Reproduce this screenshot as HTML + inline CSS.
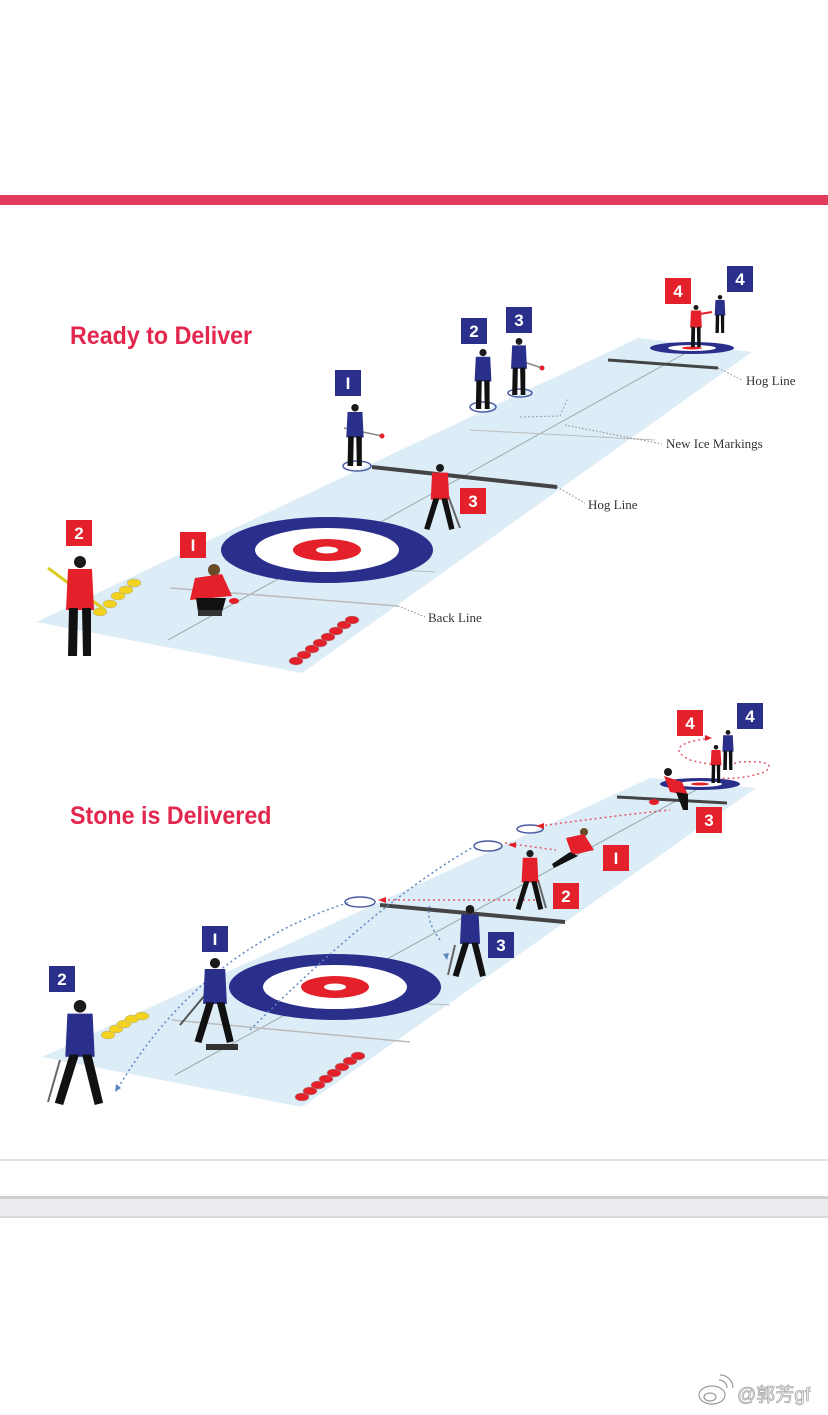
<!DOCTYPE html>
<html><head><meta charset="utf-8"><style>
html,body{margin:0;padding:0;background:#fff;width:828px;height:1415px;overflow:hidden}
svg{display:block}
</style></head><body>
<svg width="828" height="1415" viewBox="0 0 828 1415" xmlns="http://www.w3.org/2000/svg">
<defs>
<g id="p">
<circle cx="0" cy="6" r="6" fill="#1a1a1a"/>
<path d="M-12,13 L12,13 L14,54 L-14,54 Z" fill="currentColor"/>
<path d="M-11,52 L-2,52 L-3,100 L-12,100 Z M2,52 L11,52 L11,100 L3,100 Z" fill="#111"/>
</g>
<g id="pw">
<circle cx="0" cy="6" r="6" fill="#1a1a1a"/>
<path d="M-12,13 L12,13 L14,54 L-14,54 Z" fill="currentColor"/>
<path d="M-10,52 L-1,52 L-16,100 L-24,98 Z M2,52 L11,52 L22,98 L14,100 Z" fill="#111"/>
</g>
</defs>
<rect x="0" y="195" width="828" height="10" fill="#e23a5c"/>

<polygon points="36,622 302,673 752,352 638,338" fill="#dcedf8"/>
<line x1="168" y1="640" x2="700" y2="345" stroke="#9aa" stroke-width="1"/>
<line x1="170" y1="588" x2="398" y2="606" stroke="#bbb" stroke-width="1.5"/>
<line x1="225" y1="560" x2="435" y2="572" stroke="#bbb" stroke-width="1"/>
<line x1="470" y1="430" x2="655" y2="440" stroke="#bbb" stroke-width="1"/>
<ellipse cx="327" cy="550" rx="106" ry="33" fill="#2b2f8c"/>
<ellipse cx="327" cy="550" rx="72" ry="22" fill="#fff"/>
<ellipse cx="327" cy="550" rx="34" ry="11" fill="#e4202a"/>
<ellipse cx="327" cy="550" rx="11" ry="3.5" fill="#fff"/>
<line x1="372" y1="467" x2="557" y2="487" stroke="#444" stroke-width="4"/>
<line x1="608" y1="360" x2="718" y2="368" stroke="#444" stroke-width="3"/>
<ellipse cx="692" cy="348" rx="42" ry="6" fill="#2b2f8c"/>
<ellipse cx="692" cy="348" rx="24" ry="3" fill="#fff"/>
<ellipse cx="692" cy="348" rx="10" ry="1.5" fill="#e4202a"/>
<ellipse cx="357" cy="466" rx="14" ry="5" fill="none" stroke="#4a5aa0" stroke-width="1.5"/>
<ellipse cx="483" cy="407" rx="13" ry="5" fill="none" stroke="#4a5aa0" stroke-width="1.5"/>
<ellipse cx="520" cy="393" rx="12" ry="4" fill="none" stroke="#4a5aa0" stroke-width="1.5"/>
<path d="M520,417 L560,416 L568,398" stroke="#8aa" stroke-width="1" stroke-dasharray="2,2" fill="none"/>
<g fill="#f3d31f" stroke="#aa9" stroke-width="0.5">
<ellipse cx="100" cy="612" rx="7" ry="4"/><ellipse cx="110" cy="604" rx="7" ry="4"/><ellipse cx="118" cy="596" rx="7" ry="4"/><ellipse cx="126" cy="590" rx="7" ry="4"/><ellipse cx="134" cy="583" rx="7" ry="4"/>
</g>
<g fill="#e4202a" stroke="#999" stroke-width="0.5">
<ellipse cx="296" cy="661" rx="7" ry="4"/><ellipse cx="304" cy="655" rx="7" ry="4"/><ellipse cx="312" cy="649" rx="7" ry="4"/><ellipse cx="320" cy="643" rx="7" ry="4"/><ellipse cx="328" cy="637" rx="7" ry="4"/><ellipse cx="336" cy="631" rx="7" ry="4"/><ellipse cx="344" cy="625" rx="7" ry="4"/><ellipse cx="352" cy="620" rx="7" ry="4"/>
</g>
<line x1="48" y1="568" x2="105" y2="610" stroke="#ddcc22" stroke-width="3"/>
<use href="#p" transform="translate(80,556) scale(1)" style="color:#e4202a"/>
<g><circle cx="214" cy="570" r="6" fill="#6b4a2a"/><path d="M195,578 L222,574 L232,596 L190,600 Z" fill="#e4202a"/><path d="M196,598 L226,598 L222,612 L198,612 Z" fill="#111"/><rect x="198" y="610" width="24" height="6" fill="#333"/><ellipse cx="234" cy="601" rx="5" ry="3" fill="#e4202a"/></g>
<line x1="446" y1="490" x2="460" y2="528" stroke="#666" stroke-width="2"/>
<use href="#pw" transform="translate(440,464) scale(0.66)" style="color:#e4202a"/>
<line x1="344" y1="428" x2="382" y2="436" stroke="#888" stroke-width="1.5"/><circle cx="382" cy="436" r="2.5" fill="#e4202a"/>
<use href="#p" transform="translate(355,404) scale(0.62)" style="color:#2b2f8c"/>
<use href="#p" transform="translate(483,349) scale(0.6)" style="color:#2b2f8c"/>
<line x1="512" y1="358" x2="542" y2="368" stroke="#888" stroke-width="1.5"/><circle cx="542" cy="368" r="2.5" fill="#e4202a"/>
<use href="#p" transform="translate(519,338) scale(0.57)" style="color:#2b2f8c"/>
<use href="#p" transform="translate(696,305) scale(0.42)" style="color:#e4202a"/>
<line x1="700" y1="314" x2="712" y2="312" stroke="#e4202a" stroke-width="2"/>
<use href="#p" transform="translate(720,295) scale(0.38)" style="color:#2b2f8c"/>
<g font-family="Liberation Sans, sans-serif" font-weight="bold" font-size="17" fill="#fff" text-anchor="middle">
<rect x="66" y="520" width="26" height="26" fill="#e4202a"/><text x="79" y="539">2</text>
<rect x="180" y="532" width="26" height="26" fill="#e4202a"/><text x="193" y="551">I</text>
<rect x="460" y="488" width="26" height="26" fill="#e4202a"/><text x="473" y="507">3</text>
<rect x="335" y="370" width="26" height="26" fill="#2b2f8c"/><text x="348" y="389">I</text>
<rect x="461" y="318" width="26" height="26" fill="#2b2f8c"/><text x="474" y="337">2</text>
<rect x="506" y="307" width="26" height="26" fill="#2b2f8c"/><text x="519" y="326">3</text>
<rect x="665" y="278" width="26" height="26" fill="#e4202a"/><text x="678" y="297">4</text>
<rect x="727" y="266" width="26" height="26" fill="#2b2f8c"/><text x="740" y="285">4</text>
</g>
<g stroke="#888" stroke-width="1" stroke-dasharray="1.5,2" fill="none">
<path d="M718,368 L742,380"/><path d="M565,425 L662,444"/><path d="M557,487 L585,503"/><path d="M398,606 L425,617"/>
</g>
<g font-family="Liberation Serif, serif" font-size="13" fill="#333">
<text x="746" y="385">Hog Line</text><text x="666" y="448">New Ice Markings</text><text x="588" y="509">Hog Line</text><text x="428" y="622">Back Line</text>
</g>
<text x="70" y="344" font-family="Liberation Sans, sans-serif" font-weight="bold" font-size="25" fill="#e3264d" transform="translate(70,344) scale(0.93,1) translate(-70,-344)">Ready to Deliver</text>

<polygon points="42,1057 302,1107 756,788 650,778" fill="#dcedf8"/>
<line x1="175" y1="1075" x2="705" y2="785" stroke="#9aa" stroke-width="1"/>
<line x1="172" y1="1020" x2="410" y2="1042" stroke="#bbb" stroke-width="1.5"/>
<line x1="230" y1="992" x2="450" y2="1005" stroke="#bbb" stroke-width="1"/>
<ellipse cx="335" cy="987" rx="106" ry="33" fill="#2b2f8c"/>
<ellipse cx="335" cy="987" rx="72" ry="22" fill="#fff"/>
<ellipse cx="335" cy="987" rx="34" ry="11" fill="#e4202a"/>
<ellipse cx="335" cy="987" rx="11" ry="3.5" fill="#fff"/>
<line x1="380" y1="905" x2="565" y2="922" stroke="#444" stroke-width="4"/>
<line x1="617" y1="797" x2="727" y2="803" stroke="#444" stroke-width="3"/>
<ellipse cx="700" cy="784" rx="40" ry="6" fill="#2b2f8c"/>
<ellipse cx="700" cy="784" rx="22" ry="3" fill="#fff"/>
<ellipse cx="700" cy="784" rx="9" ry="1.5" fill="#e4202a"/>
<ellipse cx="360" cy="902" rx="15" ry="5" fill="none" stroke="#4a5aa0" stroke-width="1.5"/>
<ellipse cx="488" cy="846" rx="14" ry="5" fill="none" stroke="#4a5aa0" stroke-width="1.5"/>
<ellipse cx="530" cy="829" rx="13" ry="4" fill="none" stroke="#4a5aa0" stroke-width="1.5"/>
<g fill="none" stroke-width="1.5" stroke-dasharray="2,3">
<path d="M118,1088 Q200,950 350,902" stroke="#5f86c0"/>
<path d="M250,1030 Q380,900 475,846" stroke="#5f86c0"/>
<path d="M440,940 Q425,920 430,905" stroke="#5f86c0"/>
<path d="M383,900 L540,900" stroke="#e45a6a"/>
<path d="M505,843 L556,850" stroke="#e45a6a"/>
<path d="M540,826 Q620,815 670,810" stroke="#e45a6a"/>
<path d="M710,738 Q660,745 690,760 Q720,768 740,762 Q780,760 765,772 Q740,780 720,778" stroke="#e45a6a"/>
</g>
<g fill="#e4202a"><path d="M378,900 l8,-3 v6z"/><path d="M508,845 l8,-3 v6z"/><path d="M536,826 l8,-3 v6z"/><path d="M712,738 l-7,-3 v6z"/></g>
<g fill="#5f86c0"><path d="M115,1092 l1,-8 5,4z"/><path d="M447,960 l-4,-6 6,-1z"/></g>
<g fill="#f3d31f" stroke="#aa9" stroke-width="0.5">
<ellipse cx="108" cy="1035" rx="7" ry="4"/><ellipse cx="116" cy="1029" rx="7" ry="4"/><ellipse cx="124" cy="1024" rx="7" ry="4"/><ellipse cx="132" cy="1019" rx="7" ry="4"/><ellipse cx="142" cy="1016" rx="7" ry="4"/>
</g>
<g fill="#e4202a" stroke="#999" stroke-width="0.5">
<ellipse cx="302" cy="1097" rx="7" ry="4"/><ellipse cx="310" cy="1091" rx="7" ry="4"/><ellipse cx="318" cy="1085" rx="7" ry="4"/><ellipse cx="326" cy="1079" rx="7" ry="4"/><ellipse cx="334" cy="1073" rx="7" ry="4"/><ellipse cx="342" cy="1067" rx="7" ry="4"/><ellipse cx="350" cy="1061" rx="7" ry="4"/><ellipse cx="358" cy="1056" rx="7" ry="4"/>
</g>
<line x1="60" y1="1060" x2="48" y2="1102" stroke="#666" stroke-width="2"/>
<use href="#pw" transform="translate(80,1000) scale(1.05)" style="color:#2b2f8c"/>
<line x1="205" y1="995" x2="180" y2="1025" stroke="#555" stroke-width="2"/>
<use href="#pw" transform="translate(215,958) scale(0.85)" style="color:#2b2f8c"/>
<rect x="206" y="1044" width="32" height="6" fill="#333"/>
<line x1="455" y1="945" x2="448" y2="975" stroke="#666" stroke-width="2"/>
<use href="#pw" transform="translate(470,905) scale(0.72)" style="color:#2b2f8c"/>
<line x1="538" y1="880" x2="546" y2="908" stroke="#666" stroke-width="2"/>
<use href="#pw" transform="translate(530,850) scale(0.6)" style="color:#e4202a"/>
<g><circle cx="584" cy="832" r="4" fill="#6b4a2a"/><path d="M566,838 L584,834 L594,850 L572,855 Z" fill="#e4202a"/><path d="M570,852 L552,864 L554,868 L578,856 Z" fill="#111"/></g>
<g><circle cx="668" cy="772" r="4" fill="#1a1a1a"/><path d="M664,776 L682,782 L688,795 L670,792 Z" fill="#e4202a"/><path d="M676,792 L688,794 L688,810 L683,810 Z" fill="#111"/><ellipse cx="654" cy="802" rx="5" ry="3" fill="#e4202a"/></g>
<use href="#p" transform="translate(716,745) scale(0.38)" style="color:#e4202a"/>
<use href="#p" transform="translate(728,730) scale(0.4)" style="color:#2b2f8c"/>
<g font-family="Liberation Sans, sans-serif" font-weight="bold" font-size="17" fill="#fff" text-anchor="middle">
<rect x="49" y="966" width="26" height="26" fill="#2b2f8c"/><text x="62" y="985">2</text>
<rect x="202" y="926" width="26" height="26" fill="#2b2f8c"/><text x="215" y="945">I</text>
<rect x="488" y="932" width="26" height="26" fill="#2b2f8c"/><text x="501" y="951">3</text>
<rect x="553" y="883" width="26" height="26" fill="#e4202a"/><text x="566" y="902">2</text>
<rect x="603" y="845" width="26" height="26" fill="#e4202a"/><text x="616" y="864">I</text>
<rect x="696" y="807" width="26" height="26" fill="#e4202a"/><text x="709" y="826">3</text>
<rect x="677" y="710" width="26" height="26" fill="#e4202a"/><text x="690" y="729">4</text>
<rect x="737" y="703" width="26" height="26" fill="#2b2f8c"/><text x="750" y="722">4</text>
</g>
<text x="70" y="824" font-family="Liberation Sans, sans-serif" font-weight="bold" font-size="25" fill="#e3264d" transform="translate(70,824) scale(0.93,1) translate(-70,-824)">Stone is Delivered</text>

<rect x="0" y="1159" width="828" height="2" fill="#e2e2e4"/>
<rect x="0" y="1196" width="828" height="3" fill="#cfcfd3"/>
<rect x="0" y="1199" width="828" height="19" fill="#ececf0"/>
<rect x="0" y="1216" width="828" height="2" fill="#d8d8de"/>
<g fill="none" stroke="#999" stroke-width="1.2">
<ellipse cx="712" cy="1395" rx="13" ry="9"/><ellipse cx="710" cy="1397" rx="6" ry="4"/>
<path d="M719,1380 a8,8 0 0 1 8,8"/><path d="M720,1375 a13,13 0 0 1 13,13"/>
</g>
<text x="737" y="1401" font-family="Liberation Sans, 'Noto Sans CJK SC', sans-serif" font-size="19" fill="#f4f4f4" stroke="#aaa" stroke-width="0.8">@郭芳gf</text>
</svg>
</body></html>
